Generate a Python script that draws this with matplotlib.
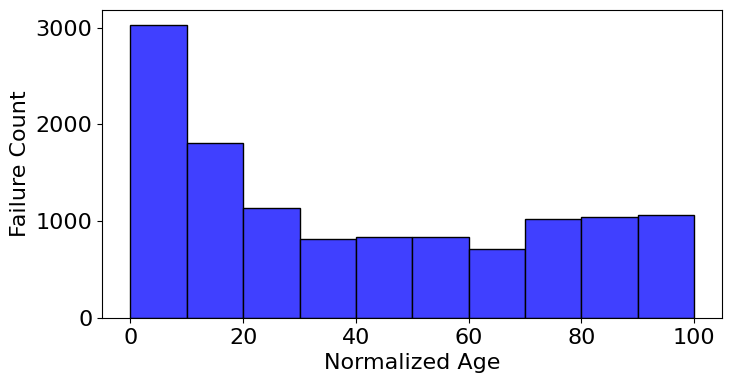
import numpy as np
import matplotlib
matplotlib.use("Agg")
import matplotlib.pyplot as plt

# bin edges and failure counts
bin_edges = [0, 10, 20, 30, 40, 50, 60, 70, 80, 90, 100]
failure_counts = [3028, 1811, 1141, 821, 832, 842, 718, 1028, 1048, 1069]

fig = plt.figure(figsize=(7.32, 3.83), dpi=100)
ax = fig.add_axes([102.3 / 732, 1 - 318 / 383, (722.3 - 102.3) / 732, (318 - 10.3) / 383])

widths = np.diff(bin_edges)
ax.bar(bin_edges[:-1], failure_counts, width=widths, align='edge',
       color=(0.25, 0.25, 1.0), edgecolor='black', linewidth=1)

ax.set_xlabel('Normalized Age', fontsize=16)
ax.set_ylabel('Failure Count', fontsize=16)
ax.tick_params(labelsize=16)
ax.set_xticks([0, 20, 40, 60, 80, 100])
ax.set_yticks([0, 1000, 2000, 3000])

fig.savefig('out.png', dpi=100)
